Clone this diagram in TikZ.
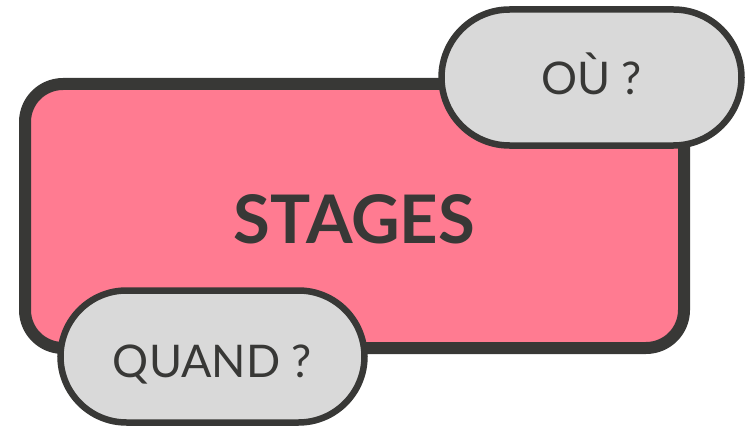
\documentclass[tikz,border=0pt]{standalone}
\usepackage{fontspec}
\setmainfont{Lato}
\usepackage{xcolor}
\usetikzlibrary{shapes.misc}
\usetikzlibrary{positioning}

\definecolor{stagepink}{HTML}{FF7B91}
\definecolor{pillgray}{HTML}{D9D9D9}
\definecolor{darkline}{HTML}{383836}

\begin{document}
\begin{tikzpicture}[x=1pt,y=-1pt]
    \useasboundingbox (0,0) rectangle (745,428);
    \node[draw=darkline,fill=stagepink,line width=12pt,rounded corners=38pt,
          minimum width=659pt,minimum height=264pt,inner sep=0pt,
          text=darkline,font=\bfseries\fontsize{67}{67}\selectfont,
          text height=54pt,text depth=0pt] (stages) at (354.5,216) {STAGES};
    \begin{scope}[every node/.style={rounded rectangle,draw=darkline,fill=pillgray,line width=6.5pt,
          inner sep=0pt,text=darkline,font=\fontsize{45}{45}\selectfont,text depth=0pt}]
    \node[minimum width=300pt,minimum height=136pt,text height=35pt] (ou) at (591.5,77.5) {OÙ ?};
    \node[minimum width=304pt,minimum height=132pt,text height=41pt] (quand) at (212.5,356.5) {QUAND ?};
    \end{scope}
\end{tikzpicture}
\end{document}
